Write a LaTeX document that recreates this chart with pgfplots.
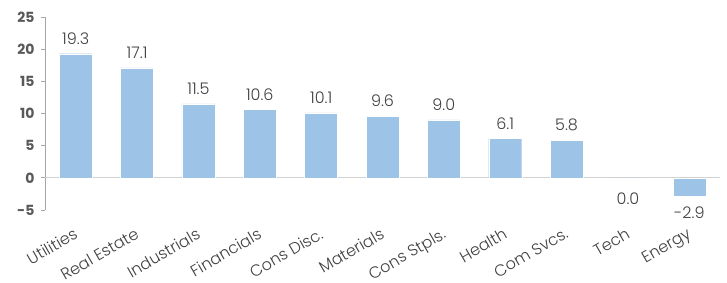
\documentclass[border=0pt]{standalone}
\usepackage{pgfplots}
\pgfplotsset{compat=1.18}
\usepackage{fontspec}
\setmainfont{Poppins}
\newfontfamily\lightfont{Poppins Light}
\definecolor{barblue}{HTML}{9DC3E6}
\definecolor{txtgray}{HTML}{404040}
\definecolor{axgray}{HTML}{595959}
\begin{document}
\begin{tikzpicture}
\begin{axis}[
  name=ax,
  scale only axis,
  width=675pt, height=193pt,
  xmin=-0.5, xmax=10.5,
  ymin=-5, ymax=25,
  ytick={-5,0,5,10,15,20,25},
  xtick={0,...,10},
  xticklabels={Utilities,Real Estate,Industrials,Financials,Cons Disc.,Materials,Cons Stpls.,Health,Com Svcs.,Tech,Energy},
  xticklabel style={xshift=-3pt, yshift=-13pt, rotate=30, anchor=north east, font=\lightfont\fontsize{16}{18}\selectfont, text=txtgray, inner sep=0pt},
  yticklabel style={font=\fontsize{14}{16}\selectfont\bfseries, text=axgray, xshift=-3pt},
  /pgf/number format/assume math mode=true,
  axis x line*=bottom,
  x axis line style={draw=none},
  axis y line*=left,
  y axis line style={draw=gray!70, line width=0.8pt, -},
  ytick style={draw=gray!70, line width=0.8pt},
  tick align=outside,
  major tick length=4pt,
  xtick style={draw=none},
  clip=false,
  every axis plot/.append style={bar width=33pt, bar shift=0pt, fill=barblue, draw=white, line width=0.3pt},
  nodes near coords style={font=\lightfont\fontsize{16}{18}\selectfont, text=txtgray, /pgf/number format/fixed, /pgf/number format/fixed zerofill, /pgf/number format/precision=1},
]
\draw[gray!35, line width=1pt] (axis cs:-0.5,0) -- (axis cs:10.5,0);
\addplot[ybar, fill=barblue, draw=white, nodes near coords, nodes near coords style={anchor=south, yshift=6pt}] coordinates {
(0,19.3) (1,17.1) (2,11.5) (3,10.6) (4,10.1) (5,9.6) (6,9.0) (7,6.1) (8,5.8)};
\addplot[ybar, fill=barblue, draw=white, nodes near coords, nodes near coords style={anchor=north, yshift=-12pt}] coordinates {
(9,0.0)};
\addplot[ybar, fill=barblue, draw=white, nodes near coords, nodes near coords style={anchor=north, yshift=-7pt}] coordinates {
(10,-2.9)};
\end{axis}
\pgfresetboundingbox
\useasboundingbox (ax.south west) ++(-45pt,-73pt) rectangle ++(727pt,283pt);
\end{tikzpicture}
\end{document}
